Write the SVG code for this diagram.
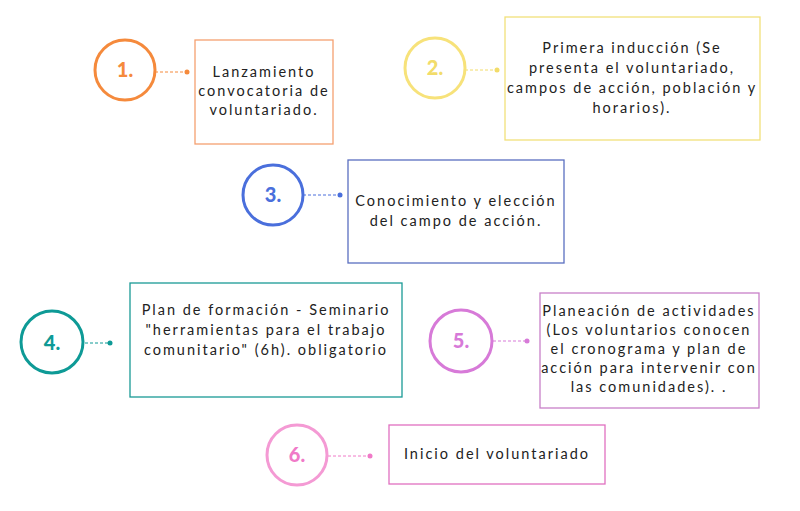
<svg xmlns="http://www.w3.org/2000/svg" width="800" height="511" viewBox="0 0 800 511">
<style>
.c{fill:#fff;stroke-width:3}
.b{fill:#fff;stroke-width:1.3}
.n{font-family:Lato,"Open Sans",sans-serif;font-weight:900;font-size:20px;text-anchor:middle}
.t{font-family:Lato,"Open Sans",sans-serif;font-size:14.5px;letter-spacing:2px;fill:#222;text-anchor:middle}
.l{stroke-width:1;stroke-dasharray:3,2;fill:none}
</style>
<rect width="800" height="511" fill="#fff"/>
<g id="connectors">
<line class="l" x1="155" y1="72" x2="187" y2="72" stroke="#f58a3c"/><circle cx="187" cy="72" r="2.5" fill="#f58a3c"/>
<line class="l" x1="465" y1="70" x2="497" y2="70" stroke="#f2dc6a"/><circle cx="497" cy="70" r="2.5" fill="#f2dc6a"/>
<line class="l" x1="303" y1="195" x2="340" y2="195" stroke="#4a6fdc"/><circle cx="340" cy="195" r="2.5" fill="#4a6fdc"/>
<line class="l" x1="85" y1="343" x2="110" y2="343" stroke="#0e9a96"/><circle cx="110" cy="343" r="2.5" fill="#0e9a96"/>
<line class="l" x1="493" y1="341" x2="527" y2="341" stroke="#d77ad8"/><circle cx="527" cy="341" r="2.5" fill="#d77ad8"/>
<line class="l" x1="328" y1="456" x2="370" y2="456" stroke="#f07ac8"/><circle cx="370" cy="456" r="2.5" fill="#f07ac8"/>
</g>
<g id="n1"><circle class="c" cx="125" cy="70" r="30" stroke="#f58a3c"/><text class="n" x="125" y="77" fill="#f58a3c">1.</text>
<rect class="b" x="195" y="40" width="138" height="104" stroke="#f5a070"/>
<text class="t" x="264" y="77">Lanzamiento</text><text class="t" x="264" y="96">convocatoria de</text><text class="t" x="264" y="115">voluntariado.</text></g>
<g id="n2"><circle class="c" cx="435" cy="68" r="30" stroke="#f7e27a"/><text class="n" x="435" y="75" fill="#f2dc6a">2.</text>
<rect class="b" x="505" y="17" width="255" height="123" stroke="#f2e07a"/>
<text class="t" x="632" y="53">Primera inducción (Se</text><text class="t" x="632" y="73">presenta el voluntariado,</text><text class="t" x="632" y="93">campos de acción, población y</text><text class="t" x="632" y="113">horarios).</text></g>
<g id="n3"><circle class="c" cx="273" cy="195" r="30" stroke="#4a6fdc"/><text class="n" x="273" y="202" fill="#4a6fdc">3.</text>
<rect class="b" x="348" y="160" width="216" height="103" stroke="#5a6fc0"/>
<text class="t" x="456" y="206">Conocimiento y elección</text><text class="t" x="456" y="226">del campo de acción.</text></g>
<g id="n4"><circle class="c" cx="52" cy="342" r="31" stroke="#0e9a96"/><text class="n" x="52" y="350" fill="#0e9a96">4.</text>
<rect class="b" x="130" y="283" width="272" height="114" stroke="#1a9a96"/>
<text class="t" x="266" y="315">Plan de formación - Seminario</text><text class="t" x="266" y="335">"herramientas para el trabajo</text><text class="t" x="266" y="355">comunitario" (6h). obligatorio</text></g>
<g id="n5"><circle class="c" cx="461" cy="341" r="31" stroke="#d77ad8"/><text class="n" x="461" y="348" fill="#d77ad8">5.</text>
<rect class="b" x="540" y="293" width="219" height="115" stroke="#c880c8"/>
<text class="t" x="649" y="316">Planeación de actividades</text><text class="t" x="649" y="335">(Los voluntarios conocen</text><text class="t" x="649" y="354">el  cronograma y plan de</text><text class="t" x="649" y="373">acción para intervenir con</text><text class="t" x="649" y="392">las comunidades). .</text></g>
<g id="n6"><circle class="c" cx="297" cy="455" r="30" stroke="#f49ad4" stroke-width="1.5"/><text class="n" x="297" y="462" fill="#f07ac8">6.</text>
<rect class="b" x="389" y="425" width="216" height="59" stroke="#e070c0"/>
<text class="t" x="497" y="459">Inicio del voluntariado</text></g>
</svg>
